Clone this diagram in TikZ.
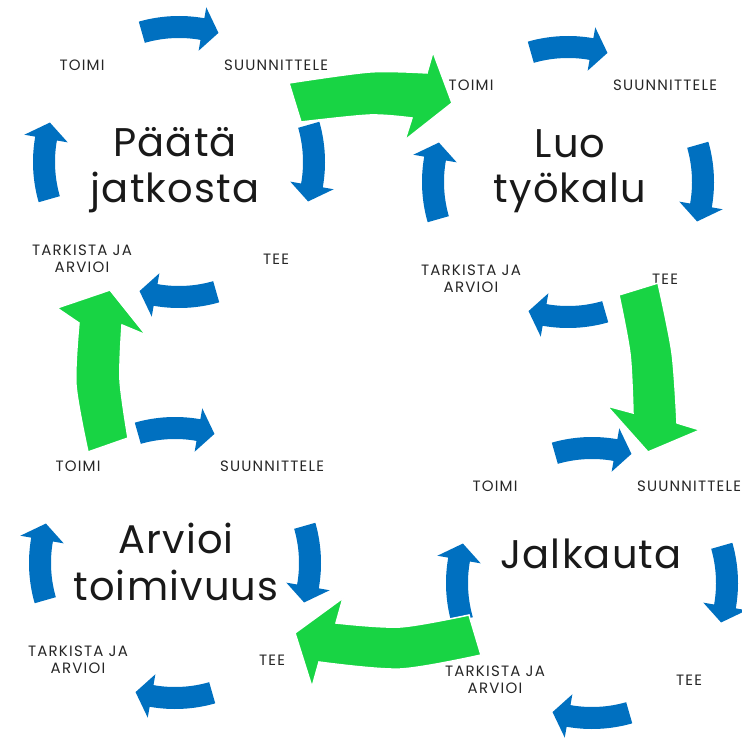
\documentclass[tikz,border=0pt]{standalone}
\usepackage{fontspec}
\setmainfont{Poppins}
\newfontfamily\labelfont[LetterSpace=8]{Poppins}
\newfontfamily\wordfont[LetterSpace=3]{Poppins}
\definecolor{pdcablue}{RGB}{0,112,192}
\definecolor{flowgreen}{RGB}{24,212,68}
\tikzset{
  bluefill/.style={fill=pdcablue},
  greenfill/.style={fill=flowgreen, draw=white, line width=1.5pt, line join=miter},
  steplabel/.style={font=\labelfont\fontsize{15}{17}\selectfont, text=black!85, align=center, inner sep=0pt},
  bigword/.style={font=\wordfont\fontsize{40}{46}\selectfont, text=black!90, anchor=base, inner sep=0pt},
}
\newcommand\pdcaarrow[1]{%
  \fill[bluefill] ({#1-16}:146) arc[start angle={#1-16}, end angle={#1+10}, radius=146]
    -- ({#1+10}:157) -- ({#1+17}:135) -- ({#1+10}:113) -- ({#1+10}:124)
    arc[start angle={#1+10}, end angle={#1-16}, radius=124] -- cycle;}
\begin{document}
\begin{tikzpicture}[x=1pt,y=-1pt]
\useasboundingbox (0,0) rectangle (742,738);
\coordinate (c1) at (179,162);
\coordinate (c2) at (568,182);
\coordinate (c3) at (175,563);
\coordinate (c4) at (592,583);
\foreach \c/\n in {c1/a,c2/b,c3/c,c4/d} {
  \begin{scope}[shift={(\c)}]
    \foreach \a in {270,0,90,180} {\pdcaarrow{\a}}
    \node[steplabel] (\n-plan) at (97,-97) {SUUNNITTELE};
    \node[steplabel] (\n-do) at (97,97) {TEE};
    \node[steplabel] (\n-check) at (-97,97) {TARKISTA JA\\ARVIOI};
    \node[steplabel] (\n-act) at (-97,-97) {TOIMI};
  \end{scope}
}
\node[bigword] (w1a) at (175,157) {Päätä};
\node[bigword] (w1b) at (175,203) {jatkosta};
\node[bigword] (w2a) at (570,158) {Luo};
\node[bigword] (w2b) at (570,203) {työkalu};
\node[bigword] (w3a) at (176,553) {Arvioi};
\node[bigword] (w3b) at (176,600) {toimivuus};
\node[bigword] (w4) at (591,568) {Jalkauta};
% green arrows
\filldraw[greenfill] plot[smooth] coordinates {(289,83) (370,72) (427,73)} -- (433,52) -- (452,103) -- (405,140)
  -- plot[smooth] coordinates {(412,118) (370,115) (301,122)} -- cycle;
\filldraw[greenfill] plot[smooth] coordinates {(658,283) (672,353) (677,423)} -- (700,430) -- (648,452) -- (607,406)
  -- plot[smooth] coordinates {(633,413) (630,354) (619,295)} -- cycle;
\filldraw[greenfill] plot[smooth] coordinates {(481,655) (400,669) (319,662)} -- (312,687) -- (295,633) -- (343,598)
  -- plot[smooth] coordinates {(336,623) (400,627) (469,615)} -- cycle;
\filldraw[greenfill] plot[smooth] coordinates {(88,452) (76,385) (79,323)} -- (57,308) -- (110,290) -- (146,335)
  -- plot[smooth] coordinates {(122,325) (120,380) (128,438)} -- cycle;
\end{tikzpicture}
\end{document}
